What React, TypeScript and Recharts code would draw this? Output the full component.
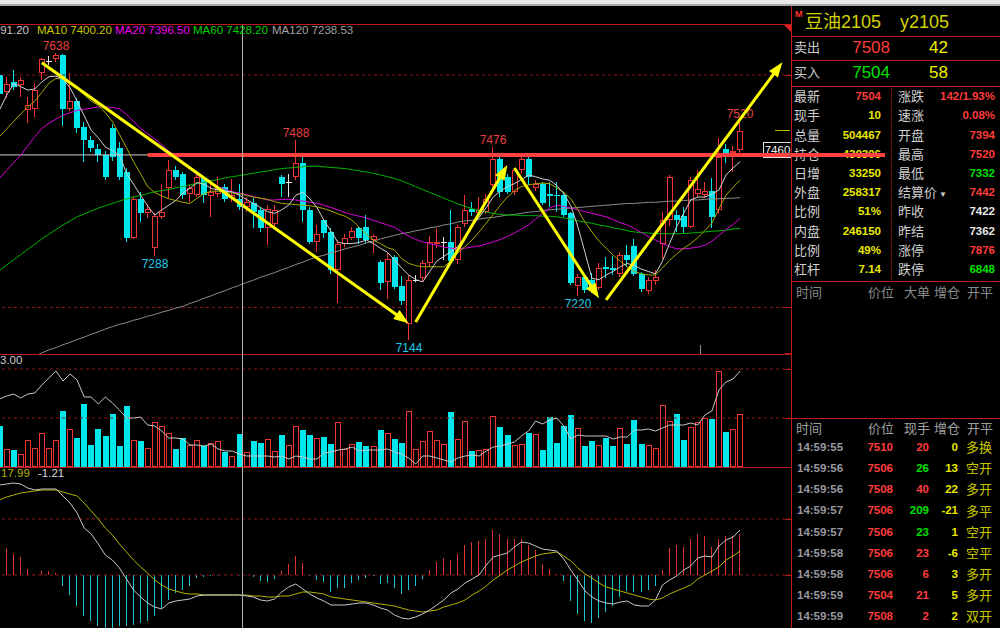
import React from "react";
import { Bar, ComposedChart, Line, ReferenceLine, XAxis, YAxis } from "recharts";

// ---- candles (one entry per day) ----
const opens = [
  7600, 7571, 7588, 7583, 7540, 7542, 7604, 7624, 7627, 7634,
  7541, 7555, 7510, 7488, 7472, 7462, 7508, 7475, 7433, 7320,
  7386, 7362, 7303, 7356, 7405, 7436, 7430, 7395, 7393, 7422,
  7392, 7395, 7408, 7388, 7387, 7373, 7380, 7368, 7336, 7344,
  7425, 7416, 7424, 7448, 7367, 7313, 7350, 7330, 7264, 7309,
  7320, 7336, 7339, 7316, 7278, 7244, 7287, 7237, 7172, 7248,
  7251, 7277, 7309, 7313, 7312, 7281, 7343, 7370, 7362, 7364,
  7410, 7455, 7424, 7399, 7436, 7455, 7406, 7413, 7396, 7394,
  7394, 7362, 7237, 7253, 7247, 7234, 7270, 7268, 7258, 7290,
  7305, 7258, 7229, 7246, 7309, 7351, 7359, 7358, 7339, 7396,
  7393, 7400, 7367, 7473, 7465, 7471,
];
const highs = [
  7604, 7597, 7609, 7597, 7562, 7587, 7629, 7632, 7638, 7636,
  7603, 7560, 7519, 7495, 7482, 7470, 7515, 7485, 7440, 7392,
  7399, 7378, 7362, 7413, 7453, 7444, 7433, 7410, 7430, 7425,
  7419, 7425, 7413, 7421, 7413, 7390, 7388, 7373, 7376, 7376,
  7428, 7430, 7488, 7459, 7373, 7342, 7353, 7336, 7316, 7327,
  7339, 7339, 7359, 7327, 7281, 7293, 7290, 7255, 7256, 7256,
  7281, 7323, 7336, 7321, 7367, 7342, 7394, 7382, 7390, 7395,
  7476, 7465, 7430, 7440, 7459, 7459, 7420, 7416, 7416, 7416,
  7398, 7365, 7258, 7258, 7260, 7276, 7287, 7288, 7296, 7307,
  7317, 7261, 7252, 7264, 7364, 7428, 7367, 7373, 7425, 7436,
  7416, 7422, 7491, 7482, 7478, 7520,
];
const lows = [
  7566, 7560, 7574, 7562, 7517, 7527, 7591, 7617, 7622, 7512,
  7538, 7500, 7451, 7468, 7451, 7420, 7452, 7420, 7313, 7318,
  7347, 7354, 7288, 7353, 7388, 7420, 7387, 7382, 7390, 7379,
  7356, 7390, 7382, 7382, 7368, 7364, 7336, 7330, 7307, 7340,
  7390, 7390, 7420, 7347, 7310, 7296, 7320, 7258, 7207, 7304,
  7316, 7310, 7310, 7293, 7230, 7215, 7232, 7205, 7144, 7244,
  7244, 7270, 7302, 7281, 7275, 7275, 7338, 7358, 7358, 7360,
  7405, 7390, 7395, 7393, 7430, 7410, 7400, 7376, 7373, 7365,
  7355, 7238, 7220, 7225, 7225, 7230, 7250, 7256, 7253, 7270,
  7255, 7227, 7224, 7238, 7284, 7340, 7330, 7328, 7336, 7390,
  7388, 7336, 7360, 7448, 7433, 7465,
];
const closes = [
  7568, 7585, 7580, 7592, 7548, 7574, 7627, 7624, 7634, 7542,
  7555, 7508, 7488, 7474, 7462, 7425, 7459, 7425, 7319, 7386,
  7362, 7369, 7357, 7364, 7436, 7425, 7393, 7405, 7424, 7393,
  7399, 7405, 7387, 7393, 7373, 7382, 7365, 7336, 7370, 7367,
  7413, 7416, 7449, 7367, 7313, 7326, 7328, 7264, 7309, 7319,
  7332, 7319, 7316, 7323, 7242, 7284, 7235, 7211, 7247, 7248,
  7277, 7312, 7313, 7313, 7280, 7338, 7368, 7364, 7367, 7387,
  7455, 7399, 7399, 7436, 7455, 7425, 7412, 7380, 7391, 7391,
  7359, 7242, 7253, 7230, 7230, 7268, 7266, 7264, 7290, 7281,
  7258, 7231, 7247, 7253, 7350, 7425, 7350, 7339, 7419, 7404,
  7400, 7356, 7459, 7466, 7470, 7504,
];

// ---- moving averages as shown on the chart ----
const ma5 = [
  7540, 7565, 7585, 7580, 7574, 7576, 7588, 7597, 7598, 7593,
  7578, 7555, 7530, 7505, 7492, 7476, 7470, 7462, 7431, 7412,
  7393, 7375, 7359, 7368, 7376, 7384, 7397, 7405, 7415, 7412,
  7405, 7402, 7400, 7399, 7393, 7386, 7379, 7372, 7365, 7362,
  7368, 7376, 7393, 7398, 7387, 7372, 7350, 7331, 7312, 7310,
  7310, 7312, 7316, 7310, 7302, 7295, 7282, 7268, 7256, 7248,
  7244, 7262, 7280, 7288, 7296, 7305, 7322, 7340, 7355, 7372,
  7390, 7400, 7408, 7413, 7420, 7428, 7425, 7421, 7419, 7410,
  7396, 7375, 7339, 7295, 7250, 7248, 7256, 7262, 7270, 7276,
  7272, 7266, 7262, 7258, 7280, 7310, 7339, 7362, 7385, 7390,
  7390, 7395, 7402, 7428, 7440, 7451,
];
const ma10 = [
  7494, 7507, 7520, 7533, 7545, 7555, 7570, 7586, 7594, 7593,
  7588, 7578, 7566, 7555, 7548, 7535, 7520, 7498, 7475, 7451,
  7430, 7408, 7398, 7392, 7387, 7384, 7381, 7379, 7388, 7396,
  7400, 7400, 7398, 7397, 7396, 7393, 7390, 7388, 7386, 7382,
  7379, 7378, 7377, 7376, 7375, 7373, 7370, 7366, 7361, 7357,
  7350, 7338, 7326, 7316, 7310, 7303, 7299, 7284, 7276, 7272,
  7270, 7270, 7270, 7270, 7280, 7294, 7305, 7316, 7330, 7345,
  7360, 7376, 7390, 7401, 7408, 7411, 7413, 7414, 7413, 7406,
  7398, 7387, 7368, 7347, 7330, 7314, 7302, 7290, 7280, 7270,
  7262, 7258, 7256, 7256, 7268, 7281, 7292, 7302, 7310, 7320,
  7332, 7345, 7370, 7393, 7407, 7419,
];
const ma20 = [
  7422, 7436, 7449, 7462, 7478, 7494, 7508, 7517, 7524, 7531,
  7535, 7539, 7541, 7543, 7545, 7545, 7544, 7542, 7532, 7520,
  7508, 7499, 7490, 7480, 7469, 7461, 7451, 7440, 7428, 7421,
  7414, 7408, 7403, 7399, 7397, 7394, 7391, 7388, 7385, 7385,
  7386, 7386, 7385, 7383, 7381, 7379, 7376, 7372, 7368, 7363,
  7360, 7357, 7354, 7350, 7346, 7342, 7338, 7330, 7323, 7317,
  7313, 7310, 7307, 7304, 7302, 7301, 7302, 7304, 7306, 7309,
  7313, 7317, 7322, 7328, 7335, 7342, 7352, 7362, 7371, 7376,
  7374, 7371, 7368, 7365, 7362, 7359, 7356, 7351, 7346, 7342,
  7336, 7329, 7322, 7316, 7310, 7305, 7301, 7301, 7302, 7304,
  7307, 7314, 7324, 7334, 7343, 7353,
];
const ma60 = [
  7264, 7273, 7282, 7291, 7300, 7309, 7318, 7326, 7334, 7342,
  7349, 7356, 7361, 7366, 7371, 7375, 7379, 7383, 7387, 7390,
  7393, 7396, 7399, 7401, 7403, 7406, 7408, 7411, 7413, 7415,
  7418, 7420, 7423, 7425, 7427, 7429, 7431, 7433, 7435, 7437,
  7439, 7440, 7441, 7442, 7443, 7443, 7442, 7441, 7440, 7439,
  7437, 7435, 7433, 7431, 7428, 7425, 7422, 7418, 7413, 7408,
  7403, 7398, 7393, 7388, 7383, 7378, 7374, 7370, 7367, 7364,
  7362, 7360, 7359, 7359, 7358, 7358, 7358, 7357, 7357, 7356,
  7354, 7352, 7349, 7347, 7345, 7342, 7340, 7337, 7335, 7332,
  7330, 7329, 7328, 7327, 7327, 7327, 7327, 7327, 7328, 7329,
  7330, 7331, 7332, 7333, 7335, 7336,
];
const ma120 = [
  null, null, null, null, null, 7116, 7122, 7127, 7131, 7136,
  7140, 7145, 7149, 7154, 7158, 7163, 7167, 7171, 7174, 7178,
  7181, 7185, 7188, 7192, 7195, 7199, 7202, 7207, 7211, 7216,
  7220, 7225, 7229, 7234, 7238, 7243, 7247, 7252, 7256, 7260,
  7265, 7269, 7274, 7278, 7283, 7287, 7290, 7294, 7297, 7301,
  7304, 7307, 7311, 7314, 7318, 7321, 7324, 7327, 7329, 7332,
  7334, 7337, 7339, 7342, 7344, 7347, 7349, 7350, 7352, 7354,
  7355, 7357, 7359, 7360, 7362, 7364, 7365, 7367, 7368, 7369,
  7370, 7371, 7372, 7373, 7374, 7375, 7376, 7377, 7378, 7379,
  7379, 7380, 7381, 7381, 7382, 7383, 7383, 7384, 7385, 7385,
  7386, 7387, 7387, 7388, 7388, 7389,
];

// ---- volume (thousand lots) and its average line ----
const volumes = [
  41, 18, 17, 13, 27, 19, 34, 19, 27, 56,
  38, 29, 63, 22, 38, 31, 53, 21, 61, 27,
  26, 19, 45, 41, 34, 18, 29, 22, 27, 21,
  24, 26, 15, 11, 33, 15, 26, 24, 28, 16,
  32, 22, 41, 37, 32, 29, 30, 23, 45, 18,
  23, 25, 21, 21, 37, 34, 28, 24, 56, 18,
  26, 36, 27, 23, 55, 28, 46, 16, 17, 18,
  51, 40, 32, 22, 23, 34, 33, 17, 50, 24,
  41, 52, 39, 21, 26, 22, 29, 21, 39, 23,
  47, 23, 22, 19, 62, 46, 53, 27, 40, 45,
  49, 48, 96, 35, 38, 53,
];
const volLine = [
  68, 71, 73, 69, 73, 74, 82, 89, 96, 86,
  93, 87, 70, 70, 63, 70, 64, 57, 49, 49,
  50, 42, 41, 36, 29, 29, 28, 22, 22, 21,
  23, 18, 16, 16, 13, 11, 11, 11, 11, 10,
  11, 8, 11, 10, 8, 8, 14, 15, 17, 18,
  20, 16, 17, 17, 17, 18, 15, 13, 9, 3,
  11, 11, 9, 7, 5, 9, 11, 12, 11, 16,
  20, 21, 23, 25, 31, 36, 46, 43, 47, 49,
  41, 28, 32, 31, 31, 31, 31, 28, 30, 30,
  37, 37, 38, 36, 39, 42, 42, 42, 44, 42,
  52, 56, 77, 85, 88, 96,
];

// ---- MACD ----
const dif = [
  90, 91, 92, 91, 87, 85, 86, 86, 86, 79,
  72, 62, 47, 41, 31, 20, 15, 7, -4, -15,
  -22, -28, -32, -34, -28, -26, -25, -24, -21, -20,
  -20, -20, -20, -20, -20, -21, -22, -25, -26, -24,
  -17, -12, -9, -14, -19, -23, -26, -30, -30, -30,
  -29, -28, -28, -30, -33, -35, -40, -43, -44, -42,
  -39, -35, -30, -25, -18, -14, -8, -4, 0, 10,
  18, 20, 22, 28, 33, 32, 29, 26, 25, 24,
  16, 5, -5, -16, -22, -26, -28, -29, -27, -26,
  -30, -31, -31, -25, -10, -5, -1, 5, 9, 17,
  19, 18, 29, 35, 38, 45,
];
const dea = [
  75, 78, 80, 82, 83, 84, 85, 85, 85, 83,
  81, 79, 72, 64, 56, 47, 40, 31, 23, 15,
  8, 2, -5, -10, -14, -16, -18, -19, -19, -20,
  -20, -20, -20, -20, -20, -20, -21, -21, -22, -22,
  -21, -21, -19, -17, -17, -18, -19, -22, -23, -24,
  -25, -26, -27, -28, -29, -30, -31, -33, -35, -36,
  -37, -36, -35, -32, -30, -28, -25, -20, -16, -11,
  -5, 0, 5, 9, 13, 16, 19, 21, 22, 23,
  19, 14, 7, 1, -3, -8, -12, -14, -16, -18,
  -20, -22, -24, -25, -23, -19, -16, -13, -10, -4,
  0, 4, 8, 15, 19, 24,
];
const macd = [
  30, 27, 21, 18, 6, 1, 4, 4, 2, -11,
  -20, -31, -41, -46, -51, -53, -53, -51, -51, -50,
  -48, -46, -41, -33, -25, -18, -15, -11, -3, -2,
  -1, -0.5, 0.3, 0.3, -0.5, -0.5, -2, -6, -7, -4,
  4, 11, 19, 12, -1, -5, -7, -17, -13, -13,
  -8, -5, -3, -1, -9, -8, -13, -19, -15, -11,
  -4, 5, 13, 17, 15, 21, 30, 33, 34, 36,
  45, 41, 36, 36, 36, 30, 25, 11, 6, 1,
  -6, -26, -39, -46, -48, -43, -37, -31, -22, -16,
  -17, -17, -15, -11, 5, 27, 30, 28, 36, 41,
  39, 28, 36, 39, 39, 41,
];

// candles whose high / low is annotated
const highMarks = [8, 42, 70, 105];
const lowMarks = [22, 58, 82];

// hand-drawn trend arrows: [fromSlot, fromPrice, toSlot, toPrice]
const arrows = [
  [6, 7621, 58, 7173],
  [59, 7175, 72, 7445],
  [73, 7440, 85, 7216],
  [86, 7213, 111, 7622],
];
const supportLine = 7462.5;

// quote panel
const quoteRows = [
  ["最新", "7504", "up", "涨跌", "142/1.93%", "up"],
  ["现手", "10", "vol", "速涨", "0.08%", "up"],
  ["总量", "504467", "vol", "开盘", "7394", "up"],
  ["持仓", "430306", "vol", "最高", "7520", "up"],
  ["日增", "33250", "vol", "最低", "7332", "down"],
  ["外盘", "258317", "vol", "结算价", "7442", "up"],
  ["比例", "51%", "vol", "昨收", "7422", "flat"],
  ["内盘", "246150", "vol", "昨结", "7362", "flat"],
  ["比例", "49%", "vol", "涨停", "7876", "up"],
  ["杠杆", "7.14", "vol", "跌停", "6848", "down"],
];
const ticks = [
  ["14:59:55", "7510", "20", "up", "0", "多换"],
  ["14:59:56", "7506", "26", "down", "13", "空开"],
  ["14:59:56", "7508", "40", "up", "22", "多开"],
  ["14:59:57", "7506", "209", "down", "-21", "多平"],
  ["14:59:57", "7506", "23", "down", "1", "空开"],
  ["14:59:58", "7506", "23", "up", "-6", "空平"],
  ["14:59:58", "7506", "6", "up", "3", "多开"],
  ["14:59:59", "7504", "21", "up", "5", "多开"],
  ["14:59:59", "7508", "2", "up", "2", "双开"],
];

const RED = "#f03434";
const CYAN = "#00e8ec";
const GRID = "#8c1414";
const FRAME = "#b81c1c";
const FONT = "'Liberation Sans', Arial, 'Noto Sans CJK SC', sans-serif";
const tone: Record<string, string> = { up: "#ff3c3c", down: "#00e000", vol: "#e8e800", flat: "#e8e8e8" };

const SLOTS = 113;
const rows = Array.from({ length: SLOTS }, (_, i) =>
  i < closes.length
    ? {
        i,
        o: opens[i],
        h: highs[i],
        l: lows[i],
        c: closes[i],
        ma5: ma5[i],
        ma10: ma10[i],
        ma20: ma20[i],
        ma60: ma60[i],
        ma120: ma120[i],
        v: volumes[i],
        va: volLine[i],
        dif: dif[i],
        dea: dea[i],
        m: macd[i],
        up: closes[i] >= opens[i],
      }
    : { i }
);

function Candle(props: any) {
  const { x, y, width, height, payload: d, index } = props;
  if (!d || d.h == null) return null;
  const top = Math.min(y, y + height);
  const bot = Math.max(y, y + height);
  const k = d.h > d.l ? (bot - top) / (d.h - d.l) : 0;
  const py = (p: number) => Math.round(top + (d.h - p) * k);
  const c = Math.round(x + width / 2);
  const wx = c - 0.5;
  const yH = py(d.h);
  const yL = py(d.l);
  const yT = py(Math.max(d.o, d.c));
  const yB = py(Math.min(d.o, d.c));
  let body;
  if (d.o === d.c) {
    body = (
      <g stroke="#e8e8e8">
        <line x1={wx} x2={wx} y1={yH} y2={yL} />
        <line x1={c - 3} x2={c + 3} y1={yT + 0.5} y2={yT + 0.5} />
      </g>
    );
  } else if (d.c > d.o) {
    body = (
      <g stroke={RED} fill="none">
        <line x1={wx} x2={wx} y1={yH} y2={yT} />
        <line x1={wx} x2={wx} y1={yB} y2={yL} />
        <rect x={c - 2.5} y={yT + 0.5} width={5} height={Math.max(yB - yT - 1, 1)} />
      </g>
    );
  } else {
    body = (
      <g>
        <line x1={wx} x2={wx} y1={yH} y2={yL} stroke={CYAN} />
        <rect x={c - 3} y={yT} width={6} height={Math.max(yB - yT, 1)} fill={CYAN} />
      </g>
    );
  }
  const idx = d.i ?? index;
  return (
    <g>
      {body}
      {highMarks.includes(idx) && (
        <text x={c} y={yH - 3} textAnchor="middle" fill="#e84040" fontSize={12} fontFamily={FONT}>
          {d.h}
        </text>
      )}
      {lowMarks.includes(idx) && (
        <text x={c} y={yL + 12} textAnchor="middle" fill="#20c8e8" fontSize={12} fontFamily={FONT}>
          {d.l}
        </text>
      )}
    </g>
  );
}

function VolBar(props: any) {
  const { x, y, width, height, payload: d } = props;
  if (!d || d.v == null) return null;
  const c = Math.round(x + width / 2);
  const top = Math.round(Math.min(y, y + height));
  const bot = Math.round(Math.max(y, y + height));
  if (d.up) {
    return <rect x={c - 2.5} y={top + 0.5} width={5} height={Math.max(bot - top - 1, 1)} fill="none" stroke={RED} />;
  }
  return <rect x={c - 3} y={top} width={6} height={bot - top} fill={CYAN} />;
}

function MacdBar(props: any) {
  const { x, y, width, height, payload: d } = props;
  if (!d || d.m == null) return null;
  const c = Math.round(x + width / 2) - 0.5;
  const y1 = Math.min(y, y + height);
  const y2 = Math.max(y, y + height);
  return <line x1={c} x2={c} y1={y1} y2={y2} stroke={d.m >= 0 ? "#e03030" : "#18c4d0"} />;
}

function Arrow(p: any) {
  const { x1, y1, x2, y2 } = p;
  if (x1 == null || x2 == null) return null;
  const dx = x2 - x1;
  const dy = y2 - y1;
  const len = Math.hypot(dx, dy) || 1;
  const ux = dx / len;
  const uy = dy / len;
  const hl = 15;
  const hw = 5.5;
  const bx = x2 - ux * hl;
  const by = y2 - uy * hl;
  return (
    <g>
      <line x1={x1} y1={y1} x2={bx + ux * 2} y2={by + uy * 2} stroke="#ffff00" strokeWidth={3} />
      <polygon
        points={`${x2},${y2} ${bx - uy * hw},${by + ux * hw} ${bx + uy * hw},${by - ux * hw}`}
        fill="#ffff00"
      />
    </g>
  );
}

function T({ x, y, c, s = 12, b = false, right = false, children }: any) {
  const st: React.CSSProperties = {
    position: "absolute",
    top: y - s * 0.6,
    fontSize: s,
    lineHeight: `${s * 1.2}px`,
    color: c,
    fontWeight: b ? 700 : 400,
    whiteSpace: "nowrap",
    fontFamily: FONT,
  };
  if (right) st.right = 1000 - x;
  else st.left = x;
  return <div style={st}>{children}</div>;
}

const hline = (top: number, left: number, width: number, color: string) => (
  <div style={{ position: "absolute", top, left, width, height: 1, background: color }} />
);

const chartBox = { position: "absolute" as const, left: -4.3, top: 0 };

export default function App() {
  return (
    <div style={{ position: "absolute", left: 0, top: 0, width: 1000, height: 628, background: "#000", overflow: "hidden", fontFamily: FONT }}>
      {/* window strip */}
      <div style={{ position: "absolute", left: 0, top: 0, width: 1000, height: 4, background: "#e8e8e8" }} />
      <div style={{ position: "absolute", left: 0, top: 4, width: 1000, height: 2, background: "#a8a8a8" }} />

      {/* crosshair price tag (under the drawn line) */}
      <div style={{ position: "absolute", left: 763, top: 142, width: 27, height: 14, border: "1px solid #e0e0e0", background: "#000", color: "#f0f0f0", fontSize: 11.5, lineHeight: "14px", textAlign: "center" }}>
        7460
      </div>
      {hline(130, 775, 15, "#b4b400")}

      {/* main price panel */}
      <div style={{ position: "absolute", left: 0, top: 25, width: 790, height: 329, overflow: "hidden" }}>
        <div style={chartBox}>
          <ComposedChart width={797} height={329} data={rows} margin={{ top: 0, right: 0, bottom: 0, left: 0 }}>
            <XAxis dataKey="i" hide />
            <YAxis hide domain={[7120, 7686]} allowDataOverflow />
            <ReferenceLine y={7600} stroke={GRID} strokeDasharray="3 3" />
            <ReferenceLine y={7200} stroke={GRID} strokeDasharray="3 3" />
            <ReferenceLine y={supportLine} stroke="#d0d0d0" />
            <Line dataKey="ma120" stroke="#8c8c8c" dot={false} activeDot={false} isAnimationActive={false} strokeWidth={1} />
            <Line dataKey="ma60" stroke="#00b400" dot={false} activeDot={false} isAnimationActive={false} strokeWidth={1} />
            <Bar dataKey={(d: any) => (d.h == null ? null : [d.l, d.h])} shape={<Candle />} isAnimationActive={false} />
            <Line dataKey="ma20" stroke="#d800d8" dot={false} activeDot={false} isAnimationActive={false} strokeWidth={1} />
            <Line dataKey="ma10" stroke="#a8a800" dot={false} activeDot={false} isAnimationActive={false} strokeWidth={1} />
            <Line dataKey="ma5" stroke="#d0d0d0" dot={false} activeDot={false} isAnimationActive={false} strokeWidth={1} />
            <ReferenceLine
              segment={[{ x: 21, y: supportLine }, { x: 112, y: supportLine }]}
              stroke="#ff4040"
              strokeWidth={4}
            />
            {arrows.map((a, n) => (
              <ReferenceLine
                key={n}
                segment={[{ x: a[0], y: a[1] }, { x: a[2], y: a[3] }]}
                shape={<Arrow />}
              />
            ))}
          </ComposedChart>
        </div>
      </div>

      {/* volume panel */}
      <div style={{ position: "absolute", left: 0, top: 354, width: 790, height: 113, overflow: "hidden" }}>
        <div style={chartBox}>
          <ComposedChart width={797} height={113} data={rows} margin={{ top: 0, right: 0, bottom: 0, left: 0 }}>
            <XAxis dataKey="i" hide />
            <YAxis hide domain={[0, 113]} allowDataOverflow />
            <ReferenceLine y={98} stroke={GRID} strokeDasharray="3 3" />
            <ReferenceLine y={49} stroke={GRID} strokeDasharray="3 3" />
            <Bar dataKey="v" shape={<VolBar />} isAnimationActive={false} />
            <Line dataKey="va" stroke="#c8c8c8" dot={false} activeDot={false} isAnimationActive={false} strokeWidth={1} />
          </ComposedChart>
        </div>
      </div>

      {/* MACD panel */}
      <div style={{ position: "absolute", left: 0, top: 467, width: 790, height: 161, overflow: "hidden" }}>
        <div style={chartBox}>
          <ComposedChart width={797} height={161} data={rows} margin={{ top: 0, right: 0, bottom: 0, left: 0 }}>
            <XAxis dataKey="i" hide />
            <YAxis hide domain={[-53, 108]} allowDataOverflow />
            <ReferenceLine y={56} stroke={GRID} strokeDasharray="3 3" />
            <ReferenceLine y={0} stroke={GRID} strokeDasharray="3 3" />
            <Bar dataKey="m" shape={<MacdBar />} isAnimationActive={false} />
            <Line dataKey="dea" stroke="#b4b400" dot={false} activeDot={false} isAnimationActive={false} strokeWidth={1} />
            <Line dataKey="dif" stroke="#c8c8c8" dot={false} activeDot={false} isAnimationActive={false} strokeWidth={1} />
          </ComposedChart>
        </div>
      </div>

      {/* frame lines */}
      {hline(24, 0, 791, FRAME)}
      {hline(354, 0, 791, FRAME)}
      {hline(467, 0, 791, FRAME)}
      <div style={{ position: "absolute", left: 791, top: 6, width: 1, height: 622, background: FRAME }} />
      <div style={{ position: "absolute", left: 784, top: 25, width: 0, height: 0, borderLeft: "7px solid transparent", borderTop: "7px solid #e02020" }} />
      {[75, 307, 353, 369, 418, 467, 519, 575].map((t) => (
        <React.Fragment key={t}>{hline(t, 785, 6, FRAME)}</React.Fragment>
      ))}
      <div style={{ position: "absolute", left: 242, top: 25, width: 1, height: 603, background: "#b0b0b0" }} />
      <div style={{ position: "absolute", left: 700, top: 345, width: 1, height: 9, background: "#909090" }} />

      {/* panel headers */}
      <T x={29} y={31} c="#c8c8c8" s={11.5} right>MA5 7391.20</T>
      <T x={37} y={31} c="#c8c800" s={11.5}>MA10 7400.20</T>
      <T x={115} y={31} c="#f000f0" s={11.5}>MA20 7396.50</T>
      <T x={193} y={31} c="#00d000" s={11.5}>MA60 7428.20</T>
      <T x={272} y={31} c="#a0a0a0" s={11.5}>MA120 7238.53</T>
      <T x={0} y={361} c="#c8c8c8" s={11.5}>3.00</T>
      <T x={1} y={474} c="#b4b400" s={11.5}>17.99</T>
      <T x={38} y={474} c="#d8d8d8" s={11.5}>-1.21</T>

      {/* quote panel */}
      <T x={795} y={14} c="#ff3030" s={9} b>M</T>
      <T x={805} y={23} c="#d2d200" s={18}>豆油2105</T>
      <T x={900} y={23} c="#d2d200" s={18}>y2105</T>
      {hline(36, 792, 208, FRAME)}
      <T x={794} y={48} c="#d0d0d0" s={13}>卖出</T>
      <T x={890} y={48} c="#ff3c3c" s={17} right>7508</T>
      <T x={948} y={48} c="#f0f000" s={17} right>42</T>
      {hline(60, 792, 208, FRAME)}
      <T x={794} y={73} c="#d0d0d0" s={13}>买入</T>
      <T x={890} y={73} c="#00e000" s={17} right>7504</T>
      <T x={948} y={73} c="#f0f000" s={17} right>58</T>
      {hline(86, 792, 208, FRAME)}
      {quoteRows.map((r, n) => {
        const y = 97 + n * 19.2;
        return (
          <React.Fragment key={n}>
            <T x={794} y={y} c="#d0d0d0" s={13}>{r[0]}</T>
            <T x={881} y={y} c={tone[r[2]]} s={11.5} b right>{r[1]}</T>
            <T x={898} y={y} c="#d0d0d0" s={13}>
              {r[3]}
              {r[3] === "结算价" && <span style={{ fontSize: 8, marginLeft: 2 }}>▼</span>}
            </T>
            <T x={995} y={y} c={tone[r[5]]} s={11.5} b right>{r[4]}</T>
          </React.Fragment>
        );
      })}
      <div style={{ position: "absolute", left: 891, top: 88, width: 0, height: 192, borderLeft: `1px dotted ${FRAME}` }} />
      {hline(281, 792, 208, FRAME)}
      <T x={796} y={293} c="#8c8c8c" s={13}>时间</T>
      <T x={868} y={293} c="#8c8c8c" s={13}>价位</T>
      <T x={904} y={293} c="#8c8c8c" s={13}>大单</T>
      <T x={934} y={293} c="#8c8c8c" s={13}>增仓</T>
      <T x={967} y={293} c="#8c8c8c" s={13}>开平</T>

      {hline(418, 792, 208, FRAME)}
      <T x={796} y={429} c="#a0a0a0" s={13}>时间</T>
      <T x={868} y={429} c="#a0a0a0" s={13}>价位</T>
      <T x={904} y={429} c="#a0a0a0" s={13}>现手</T>
      <T x={934} y={429} c="#a0a0a0" s={13}>增仓</T>
      <T x={967} y={429} c="#a0a0a0" s={13}>开平</T>
      {ticks.map((r, n) => {
        const y = 448 + n * 21.1;
        return (
          <React.Fragment key={n}>
            <T x={797} y={y} c="#9898a0" s={11.5} b>{r[0]}</T>
            <T x={893} y={y} c="#ff3c3c" s={11.5} b right>{r[1]}</T>
            <T x={929} y={y} c={tone[r[3]]} s={11.5} b right>{r[2]}</T>
            <T x={958} y={y} c="#e8e800" s={11.5} b right>{r[4]}</T>
            <T x={966} y={y} c="#c8c800" s={13}>{r[5]}</T>
          </React.Fragment>
        );
      })}

      {/* the drawn support line runs on into the quote panel */}
      <div style={{ position: "absolute", left: 790, top: 153, width: 95, height: 4, background: "#ff4040" }} />
    </div>
  );
}
